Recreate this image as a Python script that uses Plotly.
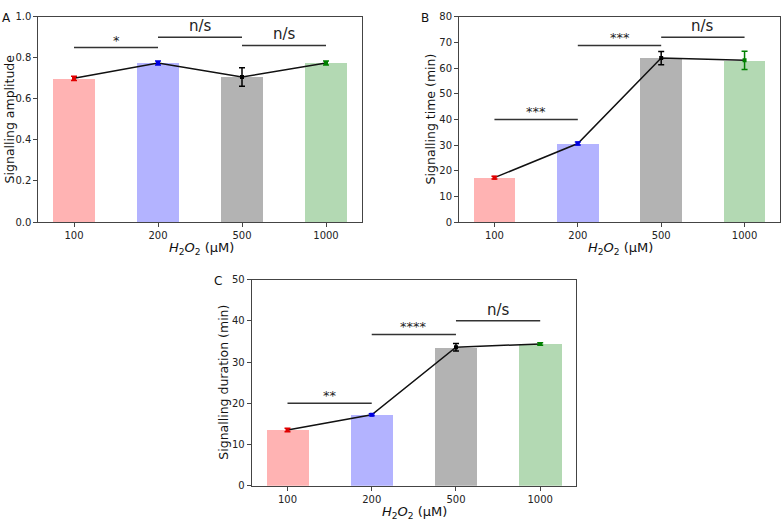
import plotly.graph_objects as go

W, H = 783, 532

categories = ["100", "200", "500", "1000"]
bar_colors = ["#ffb3b3", "#b3b3ff", "#b3b3b3", "#b3d9b3"]
err_colors = ["#e00000", "#0000e0", "#000000", "#008000"]

amp_mean = [0.700, 0.775, 0.706, 0.775]
amp_err = [0.010, 0.010, 0.045, 0.010]
amp_sig = [(0, 1, 0.85, "*"), (1, 2, 0.90, "n/s"), (2, 3, 0.86, "n/s")]

time_mean = [17.3, 30.6, 63.9, 63.0]
time_err = [0.5, 0.6, 2.6, 3.6]
time_sig = [(0, 1, 40.0, "***"), (1, 2, 68.8, "***"), (2, 3, 72.0, "n/s")]

dur_mean = [13.5, 17.2, 33.6, 34.4]
dur_err = [0.4, 0.25, 0.9, 0.3]
dur_sig = [(0, 1, 20.0, "**"), (1, 2, 36.7, "****"), (2, 3, 40.0, "n/s")]

FONT = "DejaVu Sans"
AXC = "#444444"

fig = go.Figure()

panels = [
    dict(ax="", means=amp_mean, errs=amp_err, sig=amp_sig, yr=[0, 1.0], dt=0.2, fmt=".1f",
         xpx=(38.3, 361.7), ypx=(11, 221), ytitle="Signalling amplitude", ytx=9, letter="A", lx=6),
    dict(ax="2", means=time_mean, errs=time_err, sig=time_sig, yr=[0, 80], dt=10, fmt="d",
         xpx=(459, 780), ypx=(11, 221), ytitle="Signalling time (min)", ytx=430, letter="B", lx=425),
    dict(ax="3", means=dur_mean, errs=dur_err, sig=dur_sig, yr=[0, 50], dt=10, fmt="d",
         xpx=(251.7, 576), ypx=(280, 490.7), ytitle="Signalling duration (min)", ytx=224, letter="C", lx=218),
]

xs = list(range(len(categories)))
for p in panels:
    xa = "x" + p["ax"]
    ya = "y" + p["ax"]
    fig.add_trace(go.Bar(x=xs, y=p["means"], width=0.5, marker=dict(color=bar_colors, line=dict(width=0)),
                         xaxis=xa, yaxis=ya, showlegend=False))
    fig.add_trace(go.Scatter(x=xs, y=p["means"], mode="lines", line=dict(color="#111111", width=1.5),
                             xaxis=xa, yaxis=ya, showlegend=False))
    for i in xs:
        fig.add_trace(go.Scatter(x=[i], y=[p["means"][i]], mode="markers",
                                 marker=dict(color=err_colors[i], size=4, symbol="square"),
                                 error_y=dict(type="data", array=[p["errs"][i]], color=err_colors[i],
                                              thickness=1.5, width=3),
                                 xaxis=xa, yaxis=ya, showlegend=False))
    for (a, b, yv, txt) in p["sig"]:
        fig.add_shape(type="line", x0=a, x1=b, y0=yv, y1=yv, xref=xa, yref=ya,
                      line=dict(color="#333333", width=1.5))
        fig.add_annotation(x=(a + b) / 2, y=yv, xref=xa, yref=ya, text=txt, showarrow=False,
                           yanchor="bottom", yshift=-2 if txt.startswith("*") else 0,
                           font=dict(family=FONT, size=13 if txt.startswith("*") else 15, color="#222222"))
    x0, x1 = p["xpx"]
    y0, y1 = p["ypx"]
    dom_x = [x0 / W, x1 / W]
    dom_y = [1 - y1 / H, 1 - y0 / H]
    key = "" if p["ax"] == "" else p["ax"]
    fig.update_layout(**{
        "xaxis" + key: dict(domain=dom_x, range=[-0.425, 3.425], tickvals=xs, ticktext=categories,
                            showline=True, mirror=True, linecolor=AXC, linewidth=1, ticks="outside",
                            ticklen=4, tickcolor=AXC, showgrid=False, zeroline=False, anchor=ya,
                            tickfont=dict(family=FONT, size=10, color="#222222")),
        "yaxis" + key: dict(domain=dom_y, range=p["yr"], dtick=p["dt"], tick0=0, tickformat=p["fmt"],
                            showline=True, mirror=True, linecolor=AXC, linewidth=1, ticks="outside",
                            ticklen=4, tickcolor=AXC, showgrid=False, zeroline=False, anchor=xa,
                            tickfont=dict(family=FONT, size=10, color="#222222")),
    })
    # y title
    fig.add_annotation(x=p["ytx"] / W, y=1 - ((y0 + y1) / 2) / H, xref="paper", yref="paper",
                       text=p["ytitle"], textangle=-90, showarrow=False, xanchor="center", yanchor="middle",
                       font=dict(family=FONT, size=12.5, color="#111111"))
    # x title
    fig.add_annotation(x=((x0 + x1) / 2 + 1) / W, y=1 - (y1 + 27) / H, xref="paper", yref="paper",
                       text="<i>H</i><sub>2</sub><i>O</i><sub>2</sub> (μM)", showarrow=False,
                       xanchor="center", yanchor="middle",
                       font=dict(family=FONT, size=13, color="#111111"))
    # panel letter
    fig.add_annotation(x=p["lx"] / W, y=1 - (y0 + 1) / H, xref="paper", yref="paper",
                       text=p["letter"], showarrow=False, xanchor="center", yanchor="middle",
                       font=dict(family=FONT, size=12, color="#111111"))

fig.update_layout(width=W, height=H, margin=dict(l=0, r=0, t=0, b=0),
                  plot_bgcolor="white", paper_bgcolor="white", bargap=0)

fig.write_html("out.html")
